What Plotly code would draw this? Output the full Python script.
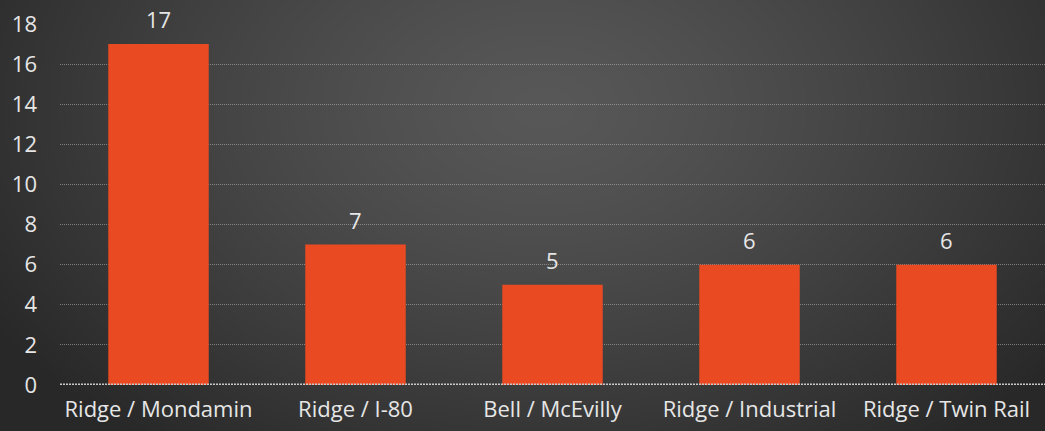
import base64, struct, zlib
import numpy as np
import plotly.graph_objects as go

categories = ["Ridge / Mondamin", "Ridge / I-80", "Bell / McEvilly", "Ridge / Industrial", "Ridge / Twin Rail"]
values = [17, 7, 5, 6, 6]
y_ticks = [0, 2, 4, 6, 8, 10, 12, 14, 16, 18]


def png_data_uri(arr):
    h, w, _ = arr.shape
    raw = b"".join(b"\x00" + arr[r].tobytes() for r in range(h))
    def chunk(tag, data):
        c = struct.pack(">I", len(data)) + tag + data
        return c + struct.pack(">I", zlib.crc32(tag + data) & 0xffffffff)
    png = b"\x89PNG\r\n\x1a\n" + chunk(b"IHDR", struct.pack(">IIBBBBB", w, h, 8, 2, 0, 0, 0))
    png += chunk(b"IDAT", zlib.compress(raw, 9)) + chunk(b"IEND", b"")
    return "data:image/png;base64," + base64.b64encode(png).decode()


# radial background gradient
W, H = 522, 216
xx, yy = np.meshgrid(np.linspace(0, 1, W), np.linspace(0, 1, H))
d = np.sqrt(((xx - 0.52) / 0.62) ** 2 + ((yy - 0.25) / 1.0) ** 2)
d = np.clip(d, 0, 1)
inner, outer = 88, 40
g = (inner + (outer - inner) * d ** 1.3).astype(np.uint8)
bg = np.stack([g, g, g], axis=-1)
bg_uri = png_data_uri(bg)

font_family = "Open Sans, Liberation Sans, Arial, sans-serif"
txt_color = "#e6e6e6"
fsize = 22

fig = go.Figure()
fig.add_trace(go.Bar(
    x=categories, y=values,
    marker=dict(color="#ea4a22", line=dict(width=0)),
    cliponaxis=False, hoverinfo="skip",
))
for c, v in zip(categories, values):
    fig.add_annotation(x=c, y=v, text=str(v), showarrow=False, yanchor="bottom",
                       yshift=8, font=dict(size=fsize, color=txt_color, family=font_family))

fig.add_layout_image(dict(
    source=bg_uri, xref="paper", yref="paper", x=-60/985, y=1 + 24/361,
    sizex=1045/985, sizey=431/361, xanchor="left", yanchor="top", sizing="stretch", layer="below",
))
fig.update_layout(
    width=1045, height=431,
    margin=dict(l=60, r=0, t=24, b=46),
    paper_bgcolor="#3a3a3a", plot_bgcolor="rgba(0,0,0,0)",
    bargap=0.49, showlegend=False,
    font=dict(family=font_family, color=txt_color, size=fsize),
    xaxis=dict(showgrid=False, showline=False, ticks="", ticklabelstandoff=9,
               tickfont=dict(size=fsize, color=txt_color)),
    yaxis=dict(range=[0, 18], tickvals=y_ticks, showgrid=True, griddash="1px,1px",
               gridcolor="rgba(200,200,200,0.5)", gridwidth=1, zeroline=False,
               ticklabelstandoff=22, tickfont=dict(size=fsize, color=txt_color)),
)
fig.add_shape(type="line", xref="paper", yref="y", x0=0, x1=1, y0=0, y1=0,
              line=dict(color="#c8c8c8", width=3, dash="2px,1px"))
fig.write_html("out.html")
